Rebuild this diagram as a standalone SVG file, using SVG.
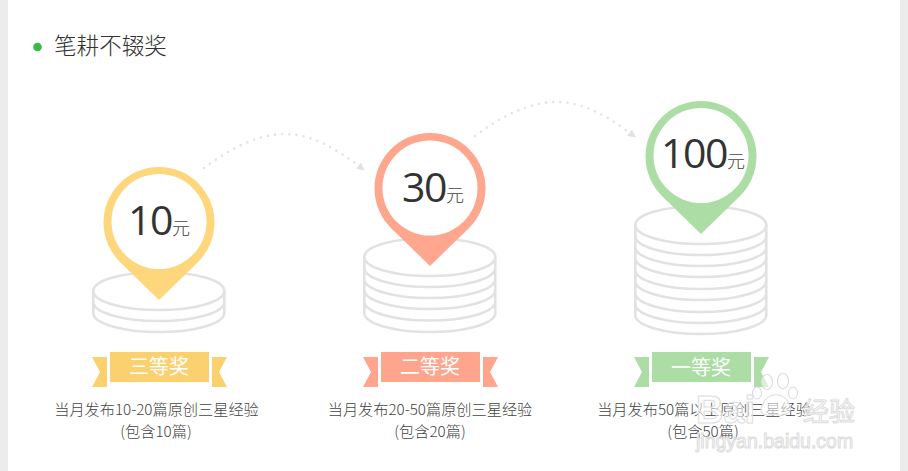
<svg xmlns="http://www.w3.org/2000/svg" width="908" height="471" viewBox="0 0 908 471">
<style>
text{font-family:"Noto Sans CJK SC","Open Sans",sans-serif;fill:#333}
.num{font-family:"Open Sans","Noto Sans CJK SC",sans-serif;font-size:41px;letter-spacing:-1.5px}
.unit{font-size:18px;fill:#444;font-weight:300}
.rib{font-size:20px;fill:#fff;text-anchor:middle}
.cap{font-size:15.200px;text-anchor:middle;fill:#444;font-weight:300}
.coin{fill:none;stroke:#e2e2e2;stroke-width:2.6}
.dot{fill:none;stroke:#e4e4e4;stroke-width:2.6;stroke-linecap:round;stroke-dasharray:0 7.2}
.wm{font-family:"Liberation Sans",sans-serif;fill:#fff;fill-opacity:.55;stroke:#dcdcdc;stroke-width:1}
.wc{font-family:"Noto Sans CJK SC",sans-serif;fill:#fff;fill-opacity:.55;stroke:#dcdcdc;stroke-width:1}
</style>
<defs>
<marker id="arr" markerUnits="userSpaceOnUse" markerWidth="10" markerHeight="10" refX="7" refY="4" orient="auto">
<path d="M0 0L8 4L0 8Z" fill="#e2e2e2"/>
</marker>
<path id="pin" d="M120.200 262.200A55.500 55.500 0 1 1 197.800 262.200L159 300Z"/>
<g id="rb">
<rect x="110" y="352" width="99" height="30"/>
<path d="M92 357H107V387H92L100 372Z"/>
<path d="M212 357H227L219 372L227 387H212Z"/>
</g>
</defs>
<rect width="908" height="471" fill="#fff"/>
<rect width="8" height="471" fill="#ececec"/>
<rect x="900" width="8" height="471" fill="#ececec"/>
<g id="title">
<circle cx="37.500" cy="47" r="4.300" fill="#37bb45"/>
<text x="54" y="54" font-size="22.600" font-weight="300">笔耕不辍奖</text>
</g>
<g id="connectors">
<path class="dot" marker-end="url(#arr)" d="M204 168C232 147 260 134 285 134C312 134 337 149 364 170"/>
<path class="dot" marker-end="url(#arr)" d="M475 136C503 115 531 102 556 102C583 102 608 116 635 137"/>
</g>
<g id="prize3">
<path class="coin" d="M93.300 291V313A65.500 19 0 0 0 224.300 313V291M93.300 302A65.500 19 0 0 0 224.300 302"/>
<ellipse class="coin" cx="158.800" cy="291" rx="65.500" ry="19"/>
<use href="#pin" fill="#fed67c"/>
<circle cx="159" cy="221.500" r="47.500" fill="#fff"/>
<text class="num" x="128" y="235">10</text><text class="unit" x="172" y="235">元</text>
<use href="#rb" fill="#fbd06f"/>
<text class="rib" x="159" y="374">三等奖</text>
<text class="cap" x="156.500" y="415">当月发布10-20篇原创三星经验</text>
<text class="cap" x="156" y="437">(包含10篇)</text>
</g>
<g id="prize2">
<path class="coin" d="M364.300 257V313A65.500 19 0 0 0 495.300 313V257M364.300 268A65.500 19 0 0 0 495.300 268M364.300 279A65.500 19 0 0 0 495.300 279M364.300 290A65.500 19 0 0 0 495.300 290M364.300 301.500A65.500 19 0 0 0 495.300 301.500"/>
<ellipse class="coin" cx="429.800" cy="257" rx="65.500" ry="19"/>
<use href="#pin" transform="translate(271 -34)" fill="#ffa68e"/>
<circle cx="430" cy="188" r="47.500" fill="#fff"/>
<text class="num" x="402" y="202">30</text><text class="unit" x="446" y="202">元</text>
<use href="#rb" transform="translate(271 0)" fill="#ffa58d"/>
<text class="rib" x="430" y="374">二等奖</text>
<text class="cap" x="430" y="415">当月发布20-50篇原创三星经验</text>
<text class="cap" x="430" y="437">(包含20篇)</text>
</g>
<g id="prize1">
<path class="coin" d="M635.300 225V315A65.500 19 0 0 0 766.300 315V225M635.300 236A65.500 19 0 0 0 766.300 236M635.300 247A65.500 19 0 0 0 766.300 247M635.300 258A65.500 19 0 0 0 766.300 258M635.300 270A65.500 19 0 0 0 766.300 270M635.300 281A65.500 19 0 0 0 766.300 281M635.300 293A65.500 19 0 0 0 766.300 293M635.300 304A65.500 19 0 0 0 766.300 304"/>
<ellipse class="coin" cx="700.800" cy="225" rx="65.500" ry="19"/>
<use href="#pin" transform="translate(542 -66)" fill="#abdda4"/>
<circle cx="701" cy="155.500" r="47.500" fill="#fff"/>
<text class="num" x="661" y="168">100</text><text class="unit" x="727" y="168">元</text>
<use href="#rb" transform="translate(542 0)" fill="#abdda4"/>
<text class="rib" x="701" y="375">一等奖</text>
<text class="cap" x="704" y="415">当月发布50篇以上原创三星经验</text>
<text class="cap" x="703" y="437">(包含50篇)</text>
</g>
<g id="watermark">
<g fill="#fff" fill-opacity=".55" stroke="#dcdcdc" stroke-width="1.100">
<ellipse cx="767" cy="382" rx="5.500" ry="7.500"/><ellipse cx="783" cy="381" rx="5.500" ry="7.500"/><ellipse cx="793" cy="393" rx="4.500" ry="6"/><ellipse cx="757" cy="393" rx="4.500" ry="6"/><path d="M762 406C767 391 785 391 790 406C793 416 779 416 775 414C770 416 757 416 762 406Z"/>
</g>
<text class="wm" x="696" y="423" font-size="38" font-weight="700">Bai</text>
<text class="wc" x="803" y="421" font-size="26">经验</text>
<text class="wm" x="696" y="448" font-size="19.500">jingyan.baidu.com</text>
</g>
</svg>
